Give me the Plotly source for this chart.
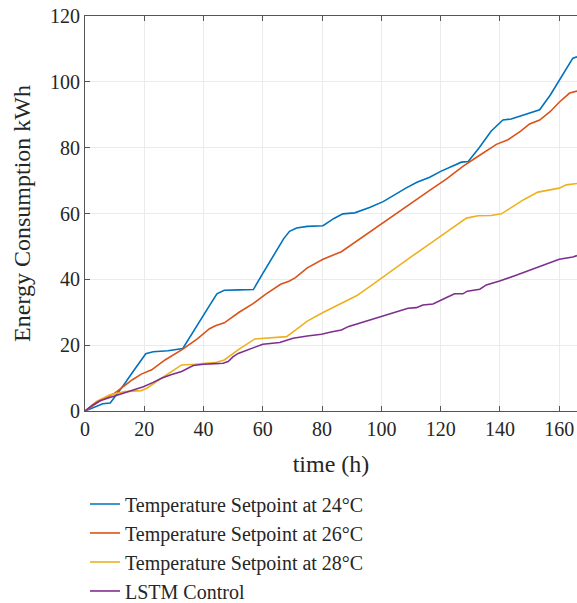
import plotly.graph_objects as go

# ---- data ----
t_24 = [0, 3, 6, 8.5, 10, 13, 17, 20.5, 23, 28, 33, 38, 42, 44.5, 47, 52, 56.8, 60, 65, 67, 69, 71.4, 75, 80.3,
        84, 87, 91, 96, 100.6, 104, 108.4, 112, 116.3, 120, 124, 127, 129.3, 133, 137, 141, 143.8, 148, 153.4,
        157, 161, 164.6, 166]
e_24 = [0, 1, 2.2, 2.4, 4.2, 7.8, 13, 17.4, 18, 18.3, 19, 26, 32, 35.6, 36.7, 36.8, 36.9, 41.8, 49.2, 52.3, 54.6,
        55.6, 56.1, 56.3, 58.5, 59.9, 60.2, 61.8, 63.6, 65.5, 67.8, 69.5, 71, 72.8, 74.4, 75.6, 75.8, 80, 85, 88.4,
        88.7, 90, 91.5, 96, 102, 107.2, 107.6]

t_26 = [0, 5, 10, 13, 16, 19, 22.5, 27, 33, 38, 42, 44, 47, 52, 56.7, 61, 66, 69, 71, 75, 80.3, 86.5, 90, 95,
        99.5, 105, 110, 116.3, 122, 127.5, 132, 136, 138.8, 142.7, 147, 150, 153.4, 157, 160, 163.5, 166]
e_26 = [0, 3, 5.4, 7.5, 9.5, 11.2, 12.5, 15.5, 18.8, 22, 25, 25.9, 26.8, 30, 32.6, 35.5, 38.5, 39.5, 40.5, 43.5,
        46.1, 48.4, 50.6, 53.7, 56.5, 60, 63.3, 67, 70.5, 74.3, 77, 79.5, 81, 82.4, 85, 87.2, 88.4, 91, 93.8,
        96.6, 97.2]

t_28 = [0, 4, 8.4, 13.5, 19, 21, 25, 29, 32.6, 37, 41, 44.4, 47, 52, 57.3, 62, 68, 71, 75, 80.3, 86, 91.6, 97,
        103, 110, 116.3, 122, 128.7, 132.6, 137, 140.5, 144, 148, 152.8, 157.9, 160, 162.4, 166]
e_28 = [0, 3, 4.9, 5.9, 6.2, 7, 9.5, 12, 14, 14.2, 14.6, 14.8, 15.5, 18.8, 21.9, 22.2, 22.6, 24.6, 27.3, 29.9,
        32.6, 35, 38.4, 42.4, 46.8, 50.8, 54.5, 58.6, 59.3, 59.4, 59.9, 61.9, 64.2, 66.5, 67.2, 67.7, 68.7, 69.1]

t_lstm = [0, 2.5, 5, 7.5, 10, 13, 16, 19.7, 23, 26, 29, 32.6, 36.5, 40, 44, 46.6, 48.3, 50, 51.7, 54, 57.3, 60,
          65.7, 70.2, 75, 79.8, 83, 86.5, 89, 93, 97, 101.7, 104, 106, 109, 111.8, 114, 117.4, 120, 122, 124.7,
          127.5, 129, 131, 133.2, 135.4, 139.9, 145, 150, 155, 160, 164.6, 166]
e_lstm = [0, 1.8, 3.1, 3.8, 4.6, 5.5, 6.4, 7.4, 8.7, 10, 11, 12, 13.8, 14.2, 14.4, 14.5, 15, 16.5, 17.5, 18.3,
          19.6, 20.3, 20.8, 22.1, 22.8, 23.3, 24, 24.6, 25.7, 26.8, 28, 29.4, 29.9, 30.6, 31.2, 31.4, 32.2, 32.5,
          33.7, 34.5, 35.6, 35.6, 36.4, 36.6, 37, 38.3, 39.5, 41.1, 42.8, 44.5, 46.1, 46.8, 47.2]

names = ["Temperature Setpoint at 24°C", "Temperature Setpoint at 26°C",
         "Temperature Setpoint at 28°C", "LSTM Control"]
colors = ["#0072BD", "#D95319", "#EDB120", "#7E2F8E"]
x_ticks = [0, 20, 40, 60, 80, 100, 120, 140, 160]
y_ticks = [0, 20, 40, 60, 80, 100, 120]

FONT = "Liberation Serif"

fig = go.Figure()
for i, (tx, ey) in enumerate([(t_24, e_24), (t_26, e_26), (t_28, e_28), (t_lstm, e_lstm)]):
    fig.add_trace(go.Scatter(x=tx, y=ey, mode="lines", name=names[i], legendgroup=str(i),
                             line=dict(color=colors[i], width=1.6)))

fig.update_layout(
    width=577, height=603,
    margin=dict(l=85, r=0, t=16, b=192, autoexpand=False),
    paper_bgcolor="white", plot_bgcolor="white",
    font=dict(family=FONT, size=20, color="#262626"),
    showlegend=True,
    legend=dict(x=0, xanchor="left", y=-0.186, yanchor="top", orientation="v",
                font=dict(family=FONT, size=20, color="#262626"),
                tracegroupgap=0, bgcolor="rgba(0,0,0,0)"),
    xaxis=dict(range=[0, 166], tickvals=x_ticks, ticks="inside", ticklen=5, tickcolor="#555",
               showline=True, linecolor="#555", linewidth=1, mirror="ticks", automargin=False,
               showgrid=True, gridcolor="#ebebeb", gridwidth=1, zeroline=False,
               title=dict(text="time (h)", standoff=16),
               tickfont=dict(family=FONT, size=20, color="#262626")),
    yaxis=dict(range=[0, 120], tickvals=y_ticks, ticks="inside", ticklen=5, tickcolor="#555",
               showline=True, linecolor="#555", linewidth=1, mirror=False, automargin=False,
               showgrid=True, gridcolor="#ebebeb", gridwidth=1, zeroline=False,
               title=dict(text="Energy Consumption kWh", standoff=12),
               tickfont=dict(family=FONT, size=20, color="#262626")),
)

fig.write_html("out.html", config={"displayModeBar": False},
               post_script="document.body.style.margin='0';document.body.style.padding='0';")
